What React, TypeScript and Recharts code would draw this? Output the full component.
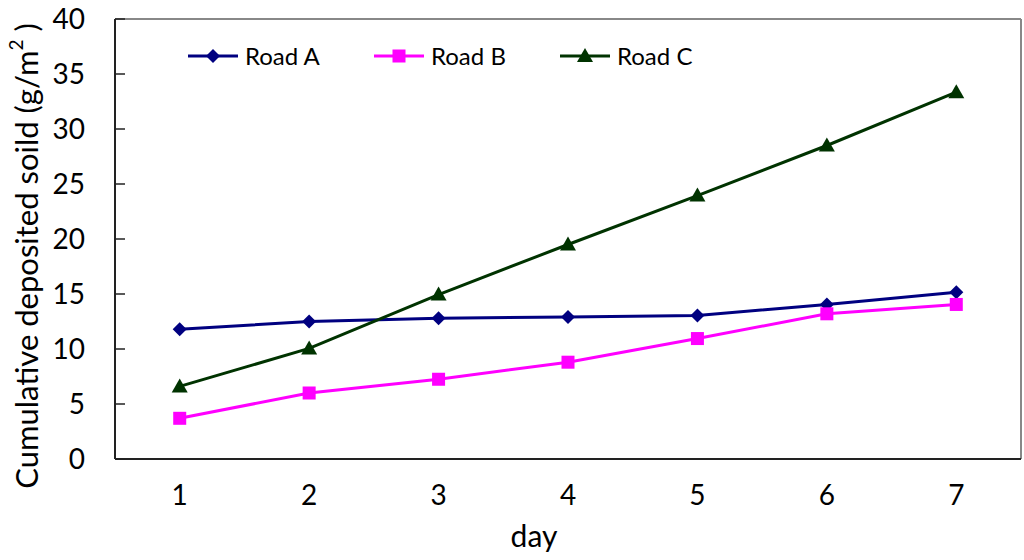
import {
  LineChart,
  Line,
  XAxis,
  YAxis,
  ReferenceLine,
} from 'recharts';

const days = [1, 2, 3, 4, 5, 6, 7];
const roadA = [11.8, 12.5, 12.8, 12.9, 13.05, 14.05, 15.15];
const roadB = [3.7, 6.0, 7.25, 8.8, 10.95, 13.2, 14.05];
const roadC = [6.6, 10.05, 14.95, 19.5, 23.95, 28.5, 33.35];
const yTicks = [0, 5, 10, 15, 20, 25, 30, 35, 40];
const dividerTicks = [1.5, 2.5, 3.5, 4.5, 5.5, 6.5];

const FONT = 'Lato, "Open Sans", sans-serif';

const series = [
  { key: 'roadA', name: 'Road A', color: '#000080', shape: 'diamond' },
  { key: 'roadB', name: 'Road B', color: '#FF00FF', shape: 'square' },
  { key: 'roadC', name: 'Road C', color: '#003300', shape: 'triangle' },
];

const data = days.map((d, i) => ({
  day: d,
  roadA: roadA[i],
  roadB: roadB[i],
  roadC: roadC[i],
}));

function Marker({ cx, cy, shape, color }: any) {
  if (cx == null || cy == null) return null;
  if (shape === 'diamond') {
    const r = 7;
    return (
      <polygon
        points={`${cx},${cy - r} ${cx + r},${cy} ${cx},${cy + r} ${cx - r},${cy}`}
        fill={color}
      />
    );
  }
  if (shape === 'square') {
    const r = 6.5;
    return <rect x={cx - r} y={cy - r} width={2 * r} height={2 * r} fill={color} />;
  }
  const r = 8;
  return (
    <polygon
      points={`${cx},${cy - r} ${cx + r},${cy + r * 0.75} ${cx - r},${cy + r * 0.75}`}
      fill={color}
    />
  );
}

const makeDot = (shape: string, color: string) => (props: any) => (
  <Marker key={`${shape}-${props.index}`} cx={props.cx} cy={props.cy} shape={shape} color={color} />
);

// legend sits inside the plot, top left
const LegendBox = () => (
  <div
    style={{
      position: 'absolute',
      left: 188,
      top: 41,
      display: 'flex',
      fontFamily: FONT,
      fontSize: 24,
      color: '#000',
      lineHeight: '30px',
    }}
  >
    {series.map((s) => (
      <div key={s.key} style={{ display: 'flex', alignItems: 'center', width: 180, marginRight: 6 }}>
        <svg width={50} height={20}>
          <line x1={0} y1={10} x2={50} y2={10} stroke={s.color} strokeWidth={3} />
          <Marker cx={25} cy={10} shape={s.shape} color={s.color} />
        </svg>
        <span style={{ marginLeft: 7 }}>{s.name}</span>
      </div>
    ))}
  </div>
);

const YLabel = ({ viewBox }: any) => {
  const x = viewBox.x + 26;
  const y = viewBox.y + viewBox.height / 2 + 17;
  return (
    <text
      x={x}
      y={y}
      transform={`rotate(-90, ${x}, ${y})`}
      textAnchor="middle"
      dominantBaseline="central"
      fontFamily={FONT}
      fontSize={31}
      fill="#000"
    >
      Cumulative deposited soild (g/m
      <tspan fontSize={19} dy={-11}>2</tspan>
      <tspan dy={11}> )</tspan>
    </text>
  );
};

const XLabel = ({ viewBox }: any) => (
  <text
    x={viewBox.x + viewBox.width / 2 - 34}
    y={viewBox.y + 88}
    textAnchor="middle"
    fontFamily={FONT}
    fontSize={30}
    fill="#000"
  >
    day
  </text>
);

export default function App() {
  return (
    <div style={{ position: 'absolute', left: 0, top: 0, background: '#fff' }}>
      <LineChart
        width={1024}
        height={560}
        data={data}
        margin={{ top: 19, right: 3, left: 0, bottom: 0 }}
      >
        <XAxis
          dataKey="day"
          type="number"
          domain={[0.5, 7.5]}
          ticks={days}
          tickLine={false}
          axisLine={{ stroke: '#222', strokeWidth: 2 }}
          tick={{ fill: '#000', fontSize: 28, fontFamily: FONT }}
          tickMargin={20}
          height={101}
          label={<XLabel />}
        />
        <XAxis
          xAxisId="div"
          dataKey="day"
          type="number"
          domain={[0.5, 7.5]}
          ticks={dividerTicks}
          tickSize={-10}
          tickLine={{ stroke: '#222', strokeWidth: 1.5 }}
          axisLine={false}
          tickFormatter={() => ''}
          height={0}
        />
        <YAxis
          type="number"
          domain={[0, 40]}
          ticks={yTicks}
          interval={0}
          tickSize={-10}
          tickMargin={40}
          tickLine={{ stroke: '#222', strokeWidth: 1.5 }}
          axisLine={{ stroke: '#222', strokeWidth: 2 }}
          tick={{ fill: '#000', fontSize: 28, fontFamily: FONT }}
          width={115}
          label={<YLabel />}
        />
        <ReferenceLine y={40} stroke="#888" strokeWidth={2} />
        <ReferenceLine x={7.5} stroke="#888" strokeWidth={2} />
        {series.map((s) => (
          <Line
            key={s.key}
            dataKey={s.key}
            name={s.name}
            stroke={s.color}
            strokeWidth={3}
            type="linear"
            dot={makeDot(s.shape, s.color)}
            activeDot={false}
            isAnimationActive={false}
          />
        ))}
      </LineChart>
      <LegendBox />
    </div>
  );
}
